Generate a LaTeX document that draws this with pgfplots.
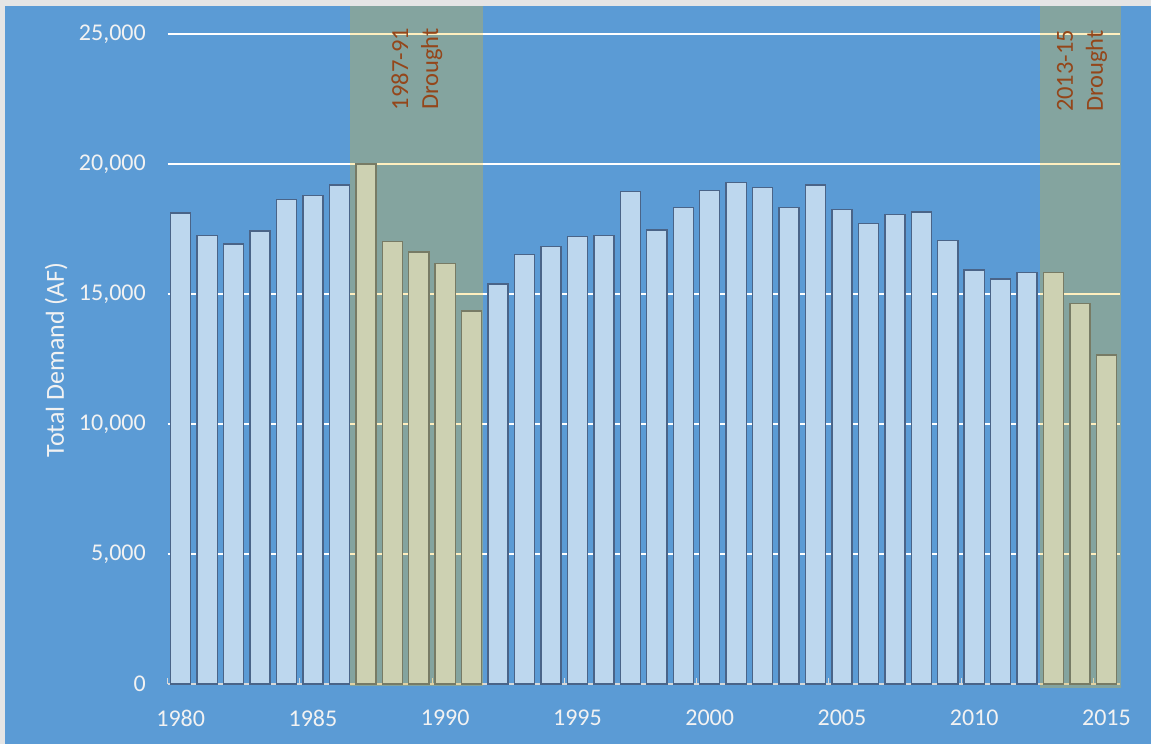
\documentclass[border=0pt]{standalone}
\usepackage{pgfplots}
\pgfplotsset{compat=1.18}
\usepackage{pgfplotstable}
\usepackage{fontspec}
\setmainfont{Carlito}

\definecolor{chartbg}{HTML}{5B9BD5}
\definecolor{barfill}{HTML}{BDD7EE}
\definecolor{baredge}{HTML}{4A6488}
\definecolor{drought}{HTML}{FFC000}
\definecolor{notetext}{HTML}{94461A}
\definecolor{ticktext}{HTML}{F2F2F2}
\definecolor{axisgrey}{HTML}{D9D9D9}

% Total annual demand, acre-feet
\pgfplotstableread{
year demand
1980 18110
1981 17260
1982 16920
1983 17420
1984 18640
1985 18790
1986 19190
1987 20000
1988 17020
1989 16620
1990 16170
1991 14350
1992 15390
1993 16520
1994 16820
1995 17210
1996 17260
1997 18950
1998 17460
1999 18340
2000 18990
2001 19290
2002 19090
2003 18340
2004 19190
2005 18250
2006 17710
2007 18060
2008 18150
2009 17070
2010 15930
2011 15580
2012 15830
2013 15830
2014 14640
2015 12660
}\demandtable

\begin{document}
\begin{tikzpicture}
% chart area
\fill[black!10] (0bp,0bp) rectangle (1151bp,744bp);
\fill[chartbg] (5bp,0bp) rectangle (1151bp,738bp);
\begin{axis}[
  at={(167.5bp,60bp)}, anchor=south west,
  scale only axis, width=952.2bp, height=678bp,
  xmin=1979.5, xmax=2015.5, ymin=0, ymax=26080,
  clip=false,
  ybar, bar width=0.76,
  axis x line*=bottom, axis y line*=left,
  x axis line style={axisgrey, line width=1.3bp, -},
  y axis line style={draw=none},
  xtick={1980,1985,...,2015},
  minor xtick={1979.5,1984.5,...,2014.5},
  xtick align=inside,
  major x tick style={draw=none},
  minor x tick style={axisgrey, line width=1bp},
  minor tick length=6bp,
  ytick={0,5000,...,25000},
  ytick style={draw=none},
  ymajorgrids,
  major grid style={white, line width=1.3bp},
  scaled y ticks=false,
  /pgf/number format/.cd, 1000 sep={,}, assume math mode=true,
  /pgfplots/.cd,
  xticklabel={\pgfmathprintnumber[1000 sep={}]{\tick}},
  xticklabel style={font=\fontsize{24bp}{28bp}\selectfont, text=ticktext,
    inner sep=0pt, anchor=north, yshift=-26bp},
  yticklabel style={font=\fontsize{24bp}{28bp}\selectfont, text=ticktext,
    inner sep=0pt, anchor=east, xshift=-21.5bp},
  ylabel={Total Demand (AF)},
  ylabel style={font=\fontsize{26bp}{30bp}\selectfont, text=ticktext,
    at={(axis description cs:-0.117,0.478)}, anchor=center, rotate=0},
]
\addplot[fill=barfill, draw=baredge, line width=1.4bp]
  table[x=year, y=demand]{\demandtable};

% drought periods
\fill[drought, fill opacity=0.25] (axis cs:1986.41,-70) rectangle (axis cs:1991.44,26080);
\fill[drought, fill opacity=0.25] (axis cs:2012.48,-160) rectangle (axis cs:2015.55,26080);

\node[rotate=90, align=center, text=notetext, inner sep=0pt,
  font=\fontsize{24.5bp}{30bp}\selectfont] at (axis cs:1988.93,23650) {1987-91\\Drought};
\node[rotate=90, align=center, text=notetext, inner sep=0pt,
  font=\fontsize{24.5bp}{30bp}\selectfont] at (axis cs:2014.08,23580) {2013-15\\Drought};
\end{axis}
\pgfresetboundingbox
\path (0bp,0bp) rectangle (1151bp,744bp);
\end{tikzpicture}
\end{document}
